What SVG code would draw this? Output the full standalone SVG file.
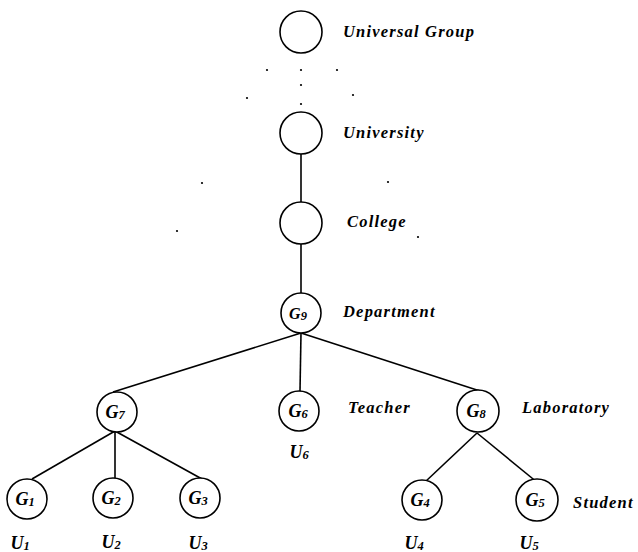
<svg xmlns="http://www.w3.org/2000/svg" width="638" height="552" viewBox="0 0 638 552">
<style>
.n{fill:#fff;stroke:#000;stroke-width:1.6}
.e{stroke:#000;stroke-width:1.6;fill:none}
.t{font-family:"Liberation Serif",serif;font-style:italic;font-weight:bold;font-size:16.5px;letter-spacing:1.2px;fill:#000}
.g{font-family:"Liberation Serif",serif;font-style:italic;font-weight:bold;font-size:18px;fill:#000;text-anchor:middle}
.g9{font-size:16px}
.s{font-size:12.5px}
.d{fill:#000}
</style>
<rect width="638" height="552" fill="#fff"/>
<g id="dots">
<circle class="d" cx="267" cy="70" r="1.1"/><circle class="d" cx="301" cy="70" r="1.1"/><circle class="d" cx="337" cy="70" r="1.1"/>
<circle class="d" cx="301" cy="85" r="1.1"/><circle class="d" cx="247" cy="98" r="1.1"/><circle class="d" cx="353" cy="95" r="1.1"/>
<circle class="d" cx="301" cy="104" r="1.1"/>
<circle class="d" cx="202" cy="183" r="1.1"/><circle class="d" cx="388" cy="182" r="1.1"/>
<circle class="d" cx="177" cy="231" r="1.1"/><circle class="d" cx="418" cy="237" r="1.1"/>
</g>
<g id="connectors">
<line class="e" x1="301" y1="154" x2="301" y2="202"/>
<line class="e" x1="301" y1="244" x2="301" y2="293"/>
<line class="e" x1="301" y1="333" x2="113" y2="392"/>
<line class="e" x1="301" y1="333" x2="300" y2="391"/>
<line class="e" x1="301" y1="333" x2="480" y2="391"/>
<line class="e" x1="115" y1="431" x2="32" y2="479"/>
<line class="e" x1="115" y1="431" x2="115" y2="478"/>
<line class="e" x1="115" y1="431" x2="202" y2="479"/>
<line class="e" x1="477" y1="433" x2="425" y2="482"/>
<line class="e" x1="477" y1="433" x2="538" y2="483"/>
</g>
<g id="universal"><circle class="n" cx="301" cy="32" r="21"/><text class="t" x="343" y="37">Universal Group</text></g>
<g id="university"><circle class="n" cx="301" cy="133" r="21"/><text class="t" x="343" y="138">University</text></g>
<g id="college"><circle class="n" cx="301" cy="223" r="21"/><text class="t" x="347" y="227">College</text></g>
<g id="g9"><circle class="n" cx="301" cy="313" r="20"/><text class="g g9" x="298" y="319">G<tspan class="s" dy="1">9</tspan></text><text class="t" x="343" y="317">Department</text></g>
<g id="g7"><circle class="n" cx="117" cy="412" r="20"/><text class="g" x="115" y="418">G<tspan class="s" dy="1">7</tspan></text></g>
<g id="g6"><circle class="n" cx="299" cy="411" r="20"/><text class="g" x="298" y="417">G<tspan class="s" dy="1">6</tspan></text><text class="g" x="299" y="458">U<tspan class="s" dy="1">6</tspan></text><text class="t" x="348" y="413">Teacher</text></g>
<g id="g8"><circle class="n" cx="478" cy="411" r="21"/><text class="g" x="476" y="417">G<tspan class="s" dy="1">8</tspan></text><text class="t" x="522" y="413">Laboratory</text></g>
<g id="g1"><circle class="n" cx="27" cy="499" r="20"/><text class="g" x="25" y="505">G<tspan class="s" dy="1">1</tspan></text><text class="g" x="20" y="549">U<tspan class="s" dy="1">1</tspan></text></g>
<g id="g2"><circle class="n" cx="113" cy="498" r="20"/><text class="g" x="111" y="504">G<tspan class="s" dy="1">2</tspan></text><text class="g" x="111" y="548">U<tspan class="s" dy="1">2</tspan></text></g>
<g id="g3"><circle class="n" cx="200" cy="498" r="20"/><text class="g" x="198" y="504">G<tspan class="s" dy="1">3</tspan></text><text class="g" x="198" y="549">U<tspan class="s" dy="1">3</tspan></text></g>
<g id="g4"><circle class="n" cx="422" cy="500" r="20"/><text class="g" x="420" y="506">G<tspan class="s" dy="1">4</tspan></text><text class="g" x="414" y="549">U<tspan class="s" dy="1">4</tspan></text></g>
<g id="g5"><circle class="n" cx="537" cy="500" r="21"/><text class="g" x="535" y="506">G<tspan class="s" dy="1">5</tspan></text><text class="g" x="529" y="549">U<tspan class="s" dy="1">5</tspan></text><text class="t" x="573" y="508">Student</text></g>
</svg>
